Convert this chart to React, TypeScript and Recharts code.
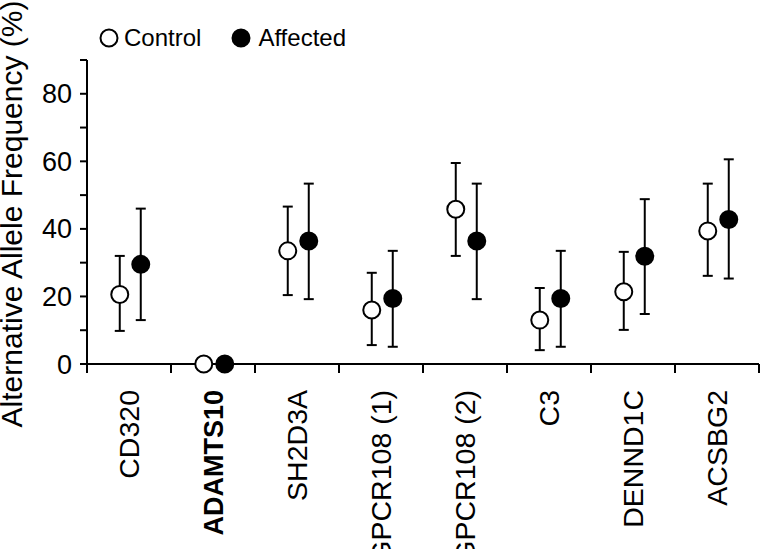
import { ScatterChart, Scatter, XAxis, YAxis, ErrorBar, Legend } from "recharts";

const categories = ["CD320", "ADAMTS10", "SH2D3A", "GPCR108 (1)", "GPCR108 (2)", "C3", "DENND1C", "ACSBG2"];
const boldCategories = ["ADAMTS10"];

const controlMean = [20.6, 0, 33.5, 16.0, 45.8, 13.0, 21.4, 39.4];
const controlLow = [9.8, null, 20.4, 5.6, 32.0, 4.1, 10.1, 26.1];
const controlHigh = [32.0, null, 46.6, 27.0, 59.5, 22.5, 33.2, 53.4];

const affectedMean = [29.5, 0, 36.4, 19.4, 36.4, 19.4, 31.9, 42.8];
const affectedLow = [13.0, null, 19.2, 5.1, 19.2, 5.1, 14.8, 25.3];
const affectedHigh = [46.0, null, 53.4, 33.5, 53.4, 33.5, 48.8, 60.6];

const yTicks = [0, 10, 20, 30, 40, 50, 60, 70, 80, 90];
const yLabels = [0, 20, 40, 60, 80];

const FONT = "'Liberation Sans', Arial, sans-serif";

// points sit a little left / right of the category centre
const build = (mean: number[], low: (number | null)[], high: (number | null)[], shift: number) =>
  mean.map((m, i) => ({
    x: i + 0.5 + shift,
    y: m,
    err: low[i] == null || high[i] == null ? null : [m - (low[i] as number), (high[i] as number) - m],
  }));

const controlData = build(controlMean, controlLow, controlHigh, -0.11);
const affectedData = build(affectedMean, affectedLow, affectedHigh, 0.14);

// boundaries get a tick mark, centres get the label
const xTicks: number[] = [];
for (let i = 0; i <= categories.length; i++) {
  xTicks.push(i);
  if (i < categories.length) xTicks.push(i + 0.5);
}

const XTick = (props: any) => {
  const { x, y, payload } = props;
  const v = payload.value;
  if (Number.isInteger(v)) {
    return <line x1={x} y1={y} x2={x} y2={y + 9} stroke="#000" strokeWidth={2} />;
  }
  const name = categories[Math.floor(v)];
  const bold = boldCategories.includes(name);
  return (
    <g transform={`translate(${x},${y})`}>
      <text
        transform="rotate(-90)"
        x={-26}
        dy="0.36em"
        textAnchor="end"
        fill="#000"
        fontSize={bold ? 27 : 28.5}
        fontFamily={FONT}
        fontWeight={bold ? "bold" : "normal"}
      >
        {name}
      </text>
    </g>
  );
};

const dot = (filled: boolean) => (p: any) =>
  <circle cx={p.cx} cy={p.cy} r={8.5} fill={filled ? "#000" : "#fff"} stroke="#000" strokeWidth={2} />;

const LegendBox = () => (
  <div style={{ display: "flex", alignItems: "center", fontFamily: FONT, fontSize: 24, color: "#000" }}>
    <svg width={20} height={20}>
      <circle cx={10} cy={10} r={8.5} fill="#fff" stroke="#000" strokeWidth={2} />
    </svg>
    <span style={{ marginLeft: 5, marginRight: 30 }}>Control</span>
    <svg width={20} height={20}>
      <circle cx={10} cy={10} r={8.5} fill="#000" stroke="#000" strokeWidth={2} />
    </svg>
    <span style={{ marginLeft: 7 }}>Affected</span>
  </div>
);

const YTitle = (props: any) => {
  const { viewBox } = props;
  const cx = viewBox.x + 11;
  const cy = viewBox.y + viewBox.height / 2 + 2;
  return (
    <text
      x={cx}
      y={cy}
      transform={`rotate(-90, ${cx}, ${cy})`}
      textAnchor="middle"
      dy="0.36em"
      fill="#000"
      fontSize={30}
      fontFamily={FONT}
    >
      Alternative Allele Frequency (%)
    </text>
  );
};

export default function App() {
  return (
    <div style={{ position: "absolute", left: 0, top: 0, background: "#fff" }}>
      <ScatterChart width={761} height={549} margin={{ top: 60, right: 2, bottom: 0, left: 0 }}>
        <XAxis
          type="number"
          dataKey="x"
          domain={[0, categories.length]}
          ticks={xTicks}
          interval={0}
          tickLine={false}
          tickSize={0}
          tickMargin={0}
          height={185}
          axisLine={{ stroke: "#000", strokeWidth: 2 }}
          tick={<XTick />}
        />
        <YAxis
          type="number"
          dataKey="y"
          domain={[0, 90]}
          ticks={yTicks}
          interval={0}
          width={87}
          tickSize={7}
          tickMargin={8}
          tickFormatter={(v: number) => (yLabels.includes(v) ? String(v) : "")}
          axisLine={{ stroke: "#000", strokeWidth: 2 }}
          tickLine={{ stroke: "#000", strokeWidth: 2 }}
          tick={{ fill: "#000", fontSize: 27, fontFamily: FONT }}
          label={<YTitle />}
        />
        <Legend
          layout="horizontal"
          verticalAlign="middle"
          align="center"
          content={<LegendBox />}
          wrapperStyle={{ top: 24, left: 99, width: "auto" }}
        />
        <Scatter name="Control" data={controlData} shape={dot(false)} isAnimationActive={false}>
          <ErrorBar dataKey="err" direction="y" width={5} stroke="#000" strokeWidth={2} />
        </Scatter>
        <Scatter name="Affected" data={affectedData} shape={dot(true)} isAnimationActive={false}>
          <ErrorBar dataKey="err" direction="y" width={5} stroke="#000" strokeWidth={2} />
        </Scatter>
      </ScatterChart>
    </div>
  );
}
